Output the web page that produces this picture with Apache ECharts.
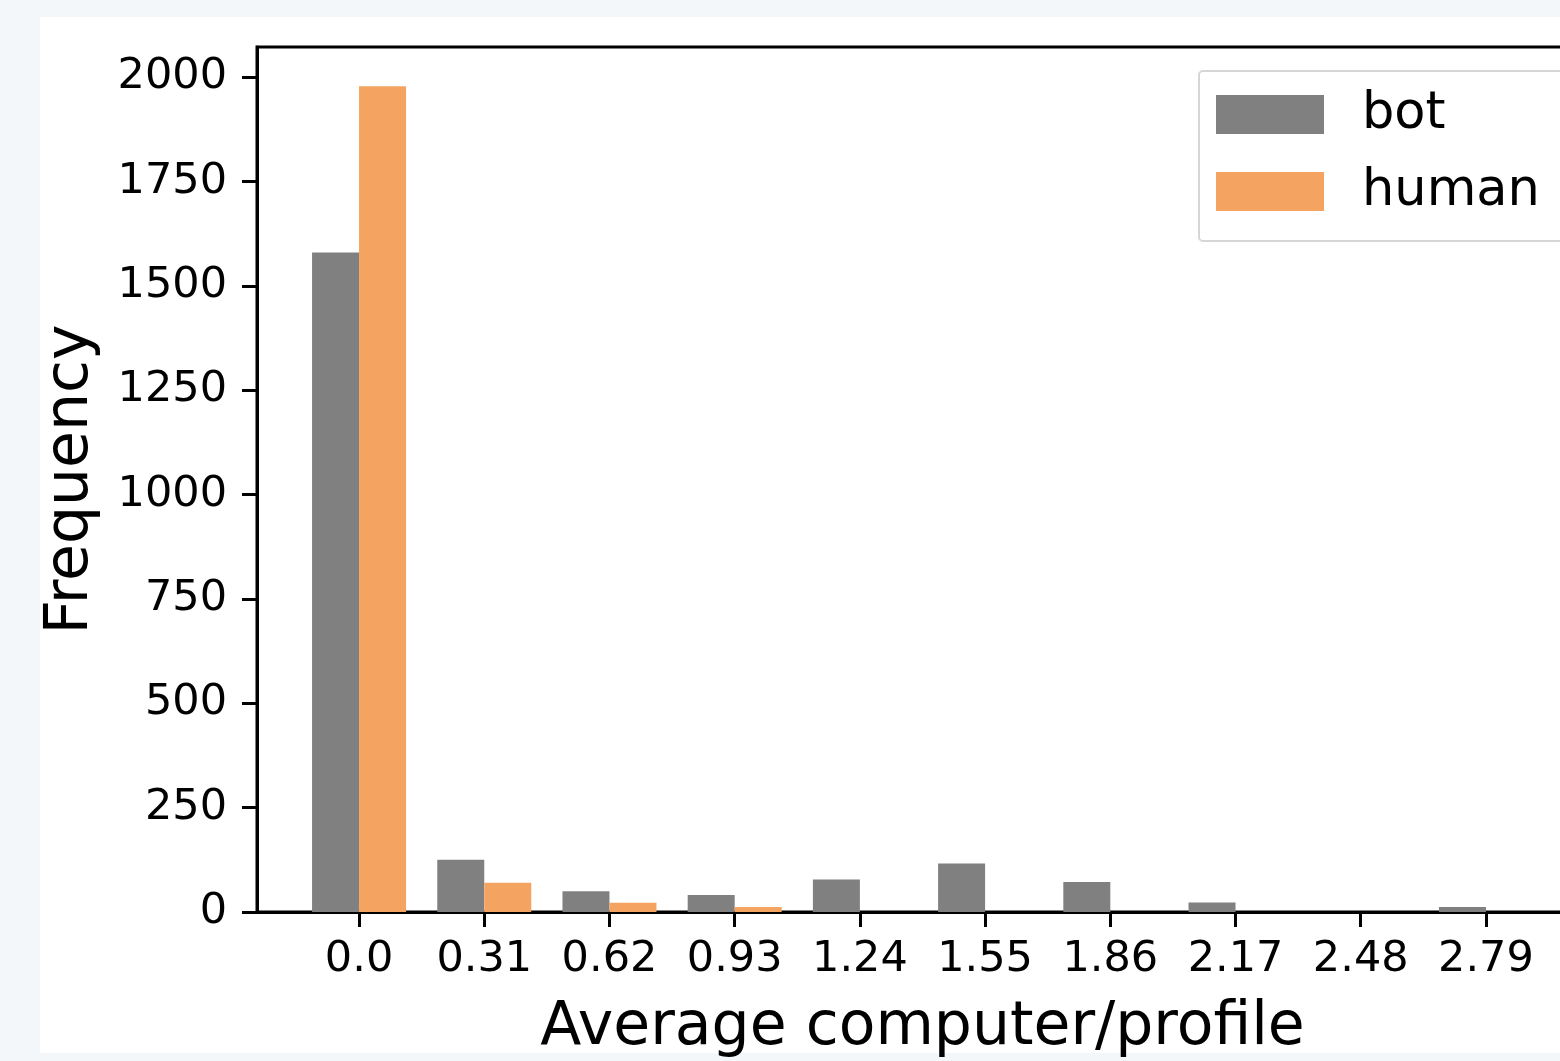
<!DOCTYPE html>
<html>
<head>
<meta charset="utf-8">
<script src="https://cdn.jsdelivr.net/npm/echarts@6/dist/echarts.min.js"></script>
<style>
  html, body { margin: 0; padding: 0; background: #f3f7fa; }
  #chart { width: 1560px; height: 1061px; }
</style>
</head>
<body>
<div id="chart"></div>
<script>
// Histogram bins of "Average computer/profile" for the two account classes
const binLabels = ['0.0', '0.31', '0.62', '0.93', '1.24', '1.55', '1.86', '2.17', '2.48', '2.79'];
const botCounts = [1580, 125, 50, 41, 78, 116, 72, 23, 0, 12];
const humanCounts = [1978, 70, 22, 12, 0, 0, 0, 0, 0, 0];
const yTicks = [0, 250, 500, 750, 1000, 1250, 1500, 1750, 2000];
const yMax = 2072;

const binIndex = binLabels.map((_, i) => i);
const font = 'DejaVu Sans';

const chart = echarts.init(document.getElementById('chart'), null, { renderer: 'canvas' });

chart.setOption({
  backgroundColor: '#f3f7fa',
  animation: false,
  textStyle: { fontFamily: font },
  graphic: [{
    type: 'rect',
    z: -10,
    silent: true,
    shape: { x: 40, y: 17, width: 1520, height: 1036 },
    style: { fill: '#ffffff' }
  }],
  grid: {
    left: 257, top: 47, width: 1331, height: 865,
    show: true, borderColor: '#000', borderWidth: 3, backgroundColor: '#fff',
    containLabel: false,
    outerBoundsMode: 'none'
  },
  legend: {
    orient: 'vertical',
    left: 1199, top: 71,
    padding: [18, 30, 24, 17],
    itemGap: 26,
    itemWidth: 108, itemHeight: 39,
    icon: 'rect',
    backgroundColor: '#fff',
    borderColor: '#d6d6d6', borderWidth: 2, borderRadius: 4,
    textStyle: { fontFamily: font, fontSize: 51, lineHeight: 50, color: '#000', padding: [0, 0, 0, 33] },
    data: ['bot', 'human']
  },
  xAxis: {
    type: 'value',
    min: -0.815, max: 9.815,
    name: 'Average computer/profile',
    nameLocation: 'middle',
    nameGap: 86,
    nameTextStyle: { fontFamily: font, fontSize: 60, color: '#000' },
    axisLine: { show: true, onZero: false, lineStyle: { color: '#000', width: 3 } },
    axisTick: { show: true, length: 15, lineStyle: { color: '#000', width: 3 }, customValues: binIndex },
    axisLabel: {
      customValues: binIndex, margin: 26,
      fontFamily: font, fontSize: 43, color: '#000',
      formatter: v => binLabels[Math.round(v)]
    },
    splitLine: { show: false }
  },
  yAxis: {
    type: 'value',
    min: 0, max: yMax,
    name: 'Frequency',
    nameLocation: 'middle',
    nameGap: 156,
    nameRotate: 90,
    nameTextStyle: { fontFamily: font, fontSize: 60, color: '#000' },
    axisLine: { show: true, onZero: false, lineStyle: { color: '#000', width: 3 } },
    axisTick: { show: true, length: 15, lineStyle: { color: '#000', width: 3 }, customValues: yTicks },
    axisLabel: {
      customValues: yTicks, margin: 30,
      fontFamily: font, fontSize: 43, color: '#000',
      formatter: v => String(v)
    },
    splitLine: { show: false }
  },
  series: [
    {
      name: 'bot', type: 'bar',
      barWidth: 47, barGap: '0%',
      itemStyle: { color: '#808080' },
      data: botCounts.map((v, i) => [i, v])
    },
    {
      name: 'human', type: 'bar',
      barWidth: 47, barGap: '0%',
      itemStyle: { color: '#f4a460' },
      data: humanCounts.map((v, i) => [i, v])
    }
  ]
});
</script>
</body>
</html>
